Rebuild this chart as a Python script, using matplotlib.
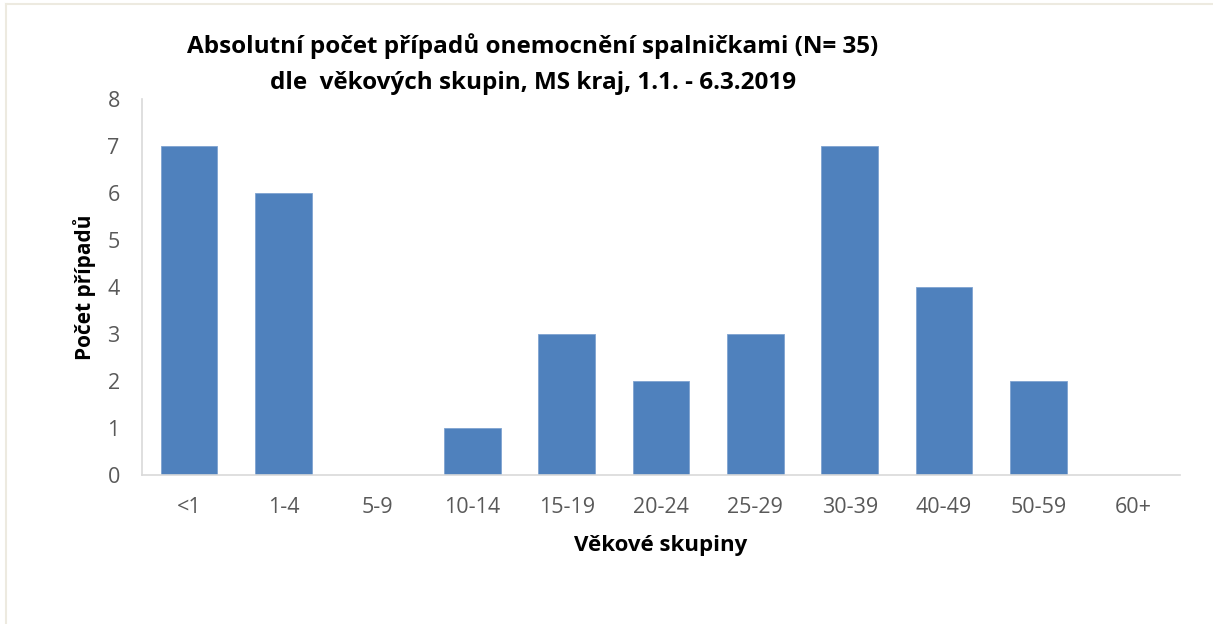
import matplotlib.pyplot as plt
from matplotlib.lines import Line2D

categories = ['<1', '1-4', '5-9', '10-14', '15-19', '20-24', '25-29',
              '30-39', '40-49', '50-59', '60+']
cases = [7, 6, 0, 1, 3, 2, 3, 7, 4, 2, 0]
y_ticks = [0, 1, 2, 3, 4, 5, 6, 7, 8]

plt.rcParams['font.family'] = ['Open Sans', 'DejaVu Sans']

W, H = 1213, 624
fig = plt.figure(figsize=(W / 100, H / 100), dpi=100)
ax = fig.add_axes([142 / W, 1 - 475 / H, (1180 - 142) / W, (475 - 99) / H])

x = range(len(categories))
ax.bar(x, cases, width=0.6, color='#4F81BD', edgecolor='#7FA3D0', linewidth=0.6)

ax.set_xlim(-0.5, len(categories) - 0.5)
ax.set_ylim(0, 8)
ax.set_yticks(y_ticks)
ax.set_xticks(list(x))
ax.set_xticklabels(categories)
ax.tick_params(length=0, labelsize=15.5, colors='#595959')
ax.tick_params(axis='x', pad=16)
ax.tick_params(axis='y', pad=16)

for side in ['top', 'right']:
    ax.spines[side].set_visible(False)
for side in ['left', 'bottom']:
    ax.spines[side].set_color('#D9D9D9')
    ax.spines[side].set_linewidth(1.2)

ax.set_xlabel('Věkové skupiny', fontsize=16, fontweight='bold', color='black', labelpad=12)
ax.set_ylabel('Počet případů', fontsize=15, fontweight='bold', color='black', labelpad=8)

fig.text(533 / W, 1 - 64 / H,
         'Absolutní počet případů onemocnění spalničkami (N= 35)\ndle  věkových skupin, MS kraj, 1.1. - 6.3.2019',
         ha='center', va='center', fontsize=17.5, fontweight='bold', linespacing=1.65)

# thin frame around the chart (cut off on right and bottom)
frame = '#EDEAE0'
fig.add_artist(Line2D([6 / W, 1], [1 - 4 / H, 1 - 4 / H], color=frame, lw=1.5))
fig.add_artist(Line2D([6 / W, 6 / W], [0, 1 - 4 / H], color=frame, lw=1.5))

fig.savefig('out.png', dpi=100)
